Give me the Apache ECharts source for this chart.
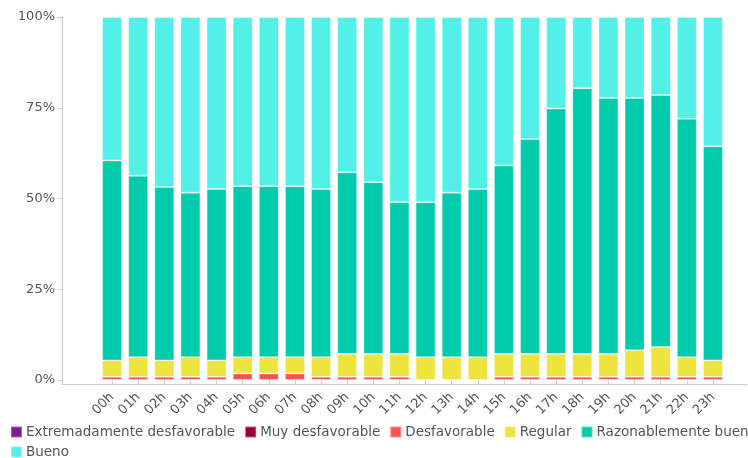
<!DOCTYPE html>
<html>
<head>
<meta charset="utf-8">
<script src="https://cdn.jsdelivr.net/npm/echarts@6/dist/echarts.min.js"></script>
<style>
  html, body { margin: 0; padding: 0; background: #fff; }
  #chart { width: 748px; height: 458px; }
</style>
</head>
<body>
<div id="chart"></div>
<script>
// hours of the day
const hours = ['00h','01h','02h','03h','04h','05h','06h','07h','08h','09h','10h','11h',
               '12h','13h','14h','15h','16h','17h','18h','19h','20h','21h','22h','23h'];

// share of each air quality class per hour (%)
const extremadamente = [0,0,0,0,0,0,0,0,0,0,0,0,0,0,0,0,0,0,0,0,0,0,0,0];
const muyDesfavorable = [0,0,0,0,0,0,0,0,0,0,0,0,0,0,0,0,0,0,0,0,0,0,0,0];
const desfavorable = [0.9,0.9,0.9,0.9,0.9,1.8,1.8,1.8,0.9,0.9,0.9,0.9,
                      0,0,0,0.9,0.9,0.9,0.9,0.9,0.9,0.9,0.9,0.9];
const regular = [4.5,5.4,4.5,5.4,4.5,4.5,4.5,4.5,5.4,6.3,6.3,6.3,
                 6.3,6.3,6.3,6.3,6.3,6.3,6.3,6.3,7.3,8.2,5.4,4.5];
const razonable = [55.1,50.0,47.8,45.3,47.2,47.1,47.1,47.1,46.3,50.0,47.3,41.8,
                   42.7,45.3,46.3,51.9,59.2,67.6,73.2,70.5,69.5,69.4,65.7,59.0];
const bueno = [39.5,43.7,46.8,48.4,47.4,46.6,46.6,46.6,47.4,42.8,45.5,51.0,
               51.0,48.4,47.4,40.9,33.6,25.2,19.6,22.3,22.3,21.5,28.0,35.6];

const classNames = ['Extremadamente desfavorable', 'Muy desfavorable', 'Desfavorable',
                    'Regular', 'Razonablemente bueno', 'Bueno'];

const yTicks = [0, 25, 50, 75, 100];

const font = 'DejaVu Sans, Verdana, sans-serif';
const axisGrey = '#cccccc';
const textGrey = '#555555';

function bar(name, data, color) {
    return {
        name: name,
        type: 'bar',
        stack: 'total',
        barWidth: 20,
        xAxisIndex: 1,
        yAxisIndex: 1,
        itemStyle: { color: color, borderColor: 'rgba(255,255,255,0.35)', borderWidth: 1 },
        data: data
    };
}

// legend overflows the page on the right like the original, so the last item goes on its own row
function legendRow(names, top) {
    return {
        data: names,
        left: 10,
        top: top,
        width: 900,
        padding: 0,
        icon: 'rect',
        itemWidth: 11,
        itemHeight: 11,
        itemGap: 9,
        textStyle: { fontSize: 13.5, color: textGrey, fontFamily: font, padding: [0, 0, 0, -1] }
    };
}

const chart = echarts.init(document.getElementById('chart'));

chart.setOption({
    animation: false,
    textStyle: { fontFamily: font },
    grid: [
        // frame grid, only draws the two axis lines
        { left: 62, right: 1, top: 17, bottom: 74 },
        // bars grid
        { left: 99, right: 22, top: 17, bottom: 78 }
    ],
    xAxis: [
        {
            gridIndex: 0, type: 'value', min: 0, max: 1,
            axisLine: { show: true, lineStyle: { color: axisGrey } },
            axisTick: { show: false }, axisLabel: { show: false }, splitLine: { show: false }
        },
        {
            gridIndex: 1, type: 'category', data: hours, offset: 4,
            axisLine: { show: false },
            axisTick: { show: true, alignWithLabel: true, length: 4, lineStyle: { color: axisGrey } },
            axisLabel: { rotate: 45, fontSize: 13, color: textGrey, margin: 11, fontFamily: font },
            splitLine: { show: false }
        }
    ],
    yAxis: [
        {
            gridIndex: 0, type: 'value', min: 0, max: 1,
            axisLine: { show: true, lineStyle: { color: axisGrey } },
            axisTick: { show: false }, axisLabel: { show: false }, splitLine: { show: false }
        },
        {
            gridIndex: 1, type: 'value', min: yTicks[0], max: yTicks[yTicks.length - 1],
            interval: yTicks[1] - yTicks[0], offset: 37,
            axisLine: { show: false },
            axisTick: { show: true, length: 5, lineStyle: { color: axisGrey } },
            axisLabel: { formatter: '{value}%', fontSize: 13, color: textGrey, margin: 7, fontFamily: font },
            splitLine: { show: false }
        }
    ],
    legend: [
        legendRow(classNames.slice(0, 5), 425),
        legendRow(classNames.slice(5), 445)
    ],
    series: [
        bar(classNames[0], extremadamente, '#7e1e80'),
        bar(classNames[1], muyDesfavorable, '#99003a'),
        bar(classNames[2], desfavorable, '#ff5050'),
        bar(classNames[3], regular, '#ede43e'),
        bar(classNames[4], razonable, '#00cbaa'),
        bar(classNames[5], bueno, '#52f0e6')
    ]
});
</script>
</body>
</html>
